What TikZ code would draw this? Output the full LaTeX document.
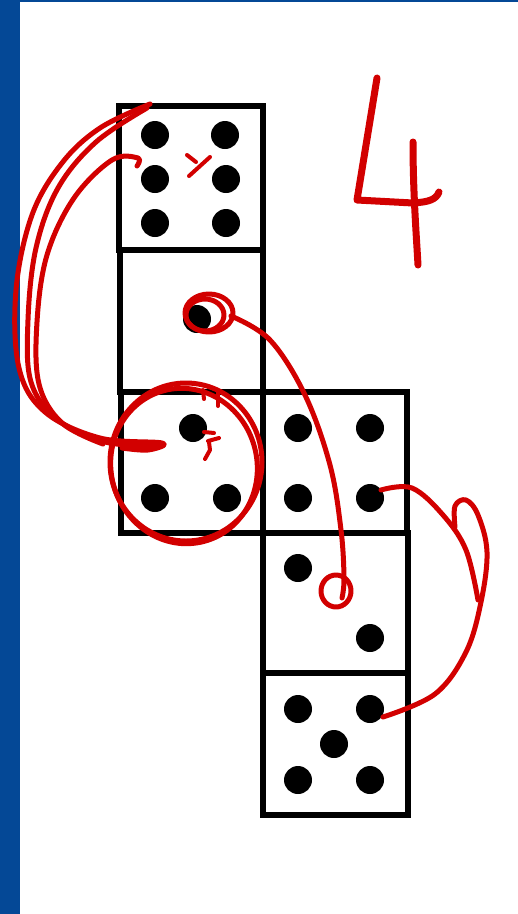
\documentclass[tikz,border=0pt]{standalone}
\definecolor{barblue}{RGB}{4,72,150}
\definecolor{ink}{RGB}{210,0,0}
\begin{document}
\begin{tikzpicture}[x=1pt,y=-1pt,
  die/.style={draw=black,line width=6pt},
  pip/.style={fill=black},
  pen/.style={draw=ink,line width=5pt,line cap=round,line join=round},
  thinpen/.style={draw=ink,line width=4pt,line cap=round,line join=round},
  fatpen/.style={draw=ink,line width=7pt,line cap=round,line join=round}]
\useasboundingbox (0,0) rectangle (518,914);
\fill[white] (0,0) rectangle (518,914);
\fill[barblue] (0,0) rectangle (20,914);
\fill[barblue] (20,0) rectangle (518,1.5);
% dice
\draw[die] (119,106) rectangle (263,250);
\draw[die] (120,250) rectangle (263,392);
\draw[die] (121,392) rectangle (263,533);
\draw[die] (263,392) rectangle (407,533);
\draw[die] (263,533) rectangle (408,673);
\draw[die] (263,673) rectangle (408,815);
% pips
\foreach \p in {(155,135),(225,135),(155,179),(226,179),(155,223),(226,223),
  (197,319),
  (193,428),(155,498),(227,498),
  (298,428),(370,428),(298,498),(370,498),
  (298,568),(370,638),
  (298,709),(370,709),(334,744),(298,780),(370,780)}
  \fill[pip] \p circle (14);
% left strokes
\draw[pen] plot[smooth,tension=0.6] coordinates {(150,104) (100,128) (62,163) (32,215) (16,290) (19,368) (45,412) (100,438) (162,443) (148,450) (122,448)};
\draw[pen] plot[smooth,tension=0.6] coordinates {(147,108) (96,142) (58,188) (36,248) (28,320) (31,382) (58,420) (105,442) (160,446)};
\draw[pen] plot[smooth,tension=0.6] coordinates {(137,166) (138,158) (112,160) (74,198) (47,255) (37,322) (39,384) (62,423) (103,444)};
% circle round die 3
\draw[pen] (186,462) ellipse [x radius=76, y radius=79];
\draw[pen,rotate around={15:(184,466)}] (184,466) ellipse [x radius=73, y radius=78];
% little marks
\draw[thinpen] (203,390) -- (204,399);
\draw[thinpen] (218,392) -- (218,406);
\draw[thinpen] (204,432) -- (214,433);
\draw[thinpen] (208,441) -- (219,438);
\draw[thinpen] (209,442) -- (210,450) -- (205,459);
\draw[thinpen] (187,155) -- (196,162);
\draw[thinpen] (210,157) -- (189,176);
% pip circle die 2 and curve
\draw[pen] (209,313) ellipse [x radius=24, y radius=19];
\draw[pen] (205,315) ellipse [x radius=19, y radius=16];
\draw[pen] plot[smooth,tension=0.6] coordinates {(231,316) (270,340) (305,395) (330,465) (341,530) (344,578) (342,598)};
\draw[pen] (336,591) ellipse [x radius=15, y radius=16];
% right curve
\draw[pen] plot[smooth,tension=0.6] coordinates {(381,490) (412,488) (443,515) (466,550) (478,600)};
\draw[pen] plot[smooth,tension=0.6] coordinates {(455,527) (455,506) (466,500) (478,515) (487,552) (481,602) (466,652) (435,694) (383,717)};
% number 4
\draw[fatpen] (377,78) -- (357,200) -- (413,203) .. controls (428,202) and (436,200) .. (439,192);
\draw[fatpen] (413,142) .. controls (413,190) and (416,230) .. (418,265);
\end{tikzpicture}
\end{document}
